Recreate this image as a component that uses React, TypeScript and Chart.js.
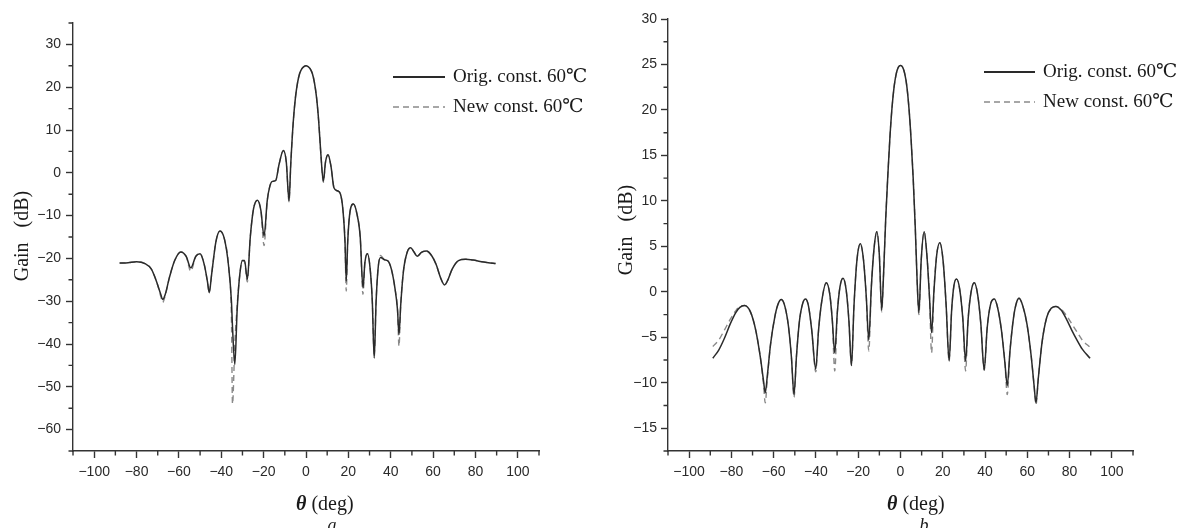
import React, { useEffect, useRef } from 'react';
import { Chart, registerables } from 'chart.js';

Chart.register(...registerables);

// ---------- data: panel a ----------
const thetaA = [
  -88, -84, -80, -76, -73, -70.5, -68.5, -67.7, -66.5, -64.5, -62, -59.1, -56.5, -54.4, -52, -50, -48, -46.5,
  -45.7, -44.5, -42.5, -40.6, -38.5, -36.5, -35.2, -34.7, -33.6, -32.5, -31.2, -30, -29, -27.7, -26.3, -24.8,
  -22.9, -21.3, -19.8, -18.3, -17, -15.9, -14.3, -12.7, -10.7, -9.3, -8, -7.2, -6, -5, -4, -3, -2, -1, 0,
  1, 2, 3, 4, 5, 6, 7, 8.2, 9.2, 10.4, 11.8, 13.2, 14.8, 16.3, 17.5, 18.4, 19, 19.7, 20.8, 22.4, 24, 25.6,
  26.9, 27.8, 29, 30.3, 31.3, 32.2, 33.1, 34.1, 35.2, 37, 38.7, 40.3, 42, 43.2, 43.9, 44.7, 46, 47.8, 49.4,
  51, 52.5, 54.5, 56.9, 59.5, 61.5, 63.5, 65.4, 67, 69, 72, 75.3, 79, 83, 86, 89.5,
];
const origA = [
  -21.1, -21.0, -20.8, -21.2, -22.5, -25.5, -28.5, -29.6, -28.5, -24.5, -20.5, -18.5, -19.6, -22.2, -19.5, -18.9, -21.5, -25.5,
  -28.0, -23.5, -16.0, -13.6, -15.5, -22, -30, -36, -44.8, -32, -23.5, -20.5, -20.5, -24.9, -15, -8.5,
  -6.4, -8.8, -14.8, -6.5, -3, -2.0, -1.8, 2, 5.2, 2.5, -6.6, 2, 12, 17.5, 21, 23.2, 24.3, 24.8, 25,
  24.8, 24.3, 23.2, 21, 17.5, 12, 4.5, -2.0, 2.5, 4.2, 1.5, -3.5, -4.2, -5.0, -9, -16, -25.3, -16, -9, -7.3, -9.5, -15,
  -26.9, -21, -18.9, -22.5, -30, -43.3, -30, -22, -19.8, -20.3, -20.6, -22.5, -27, -32, -37.8, -31, -23, -18.5, -17.5,
  -18.5, -19.5, -18.6, -18.3, -19.5, -21.5, -24.5, -26.2, -25, -22.5, -20.5, -20.2, -20.4, -20.8, -21.0, -21.2,
];
const newA = [
  -21.1, -21.0, -20.8, -21.2, -22.5, -25.5, -29, -30.3, -28.8, -24.5, -20.5, -18.5, -19.6, -23, -19.5, -18.9, -21.5, -25.5,
  -28.0, -23.5, -16.0, -13.6, -15.5, -22, -34, -54, -40, -31, -23.5, -20.5, -20.8, -25.5, -15, -8.5,
  -6.4, -8.8, -17, -6.5, -3, -2.0, -1.8, 2, 5.2, 2.5, -6.8, 2, 12, 17.5, 21, 23.2, 24.3, 24.8, 25,
  24.8, 24.3, 23.2, 21, 17.5, 12, 4.5, -2.2, 2.5, 4.2, 1.5, -3.5, -4.2, -5.0, -9, -16, -27.6, -16, -9, -7.3, -9.5, -15,
  -28.4, -21, -18.9, -22.5, -30, -43, -30, -22, -19.3, -20.3, -20.6, -22.5, -27, -32, -40.5, -31, -23, -18.5, -17.5,
  -18.5, -19.5, -18.6, -18.3, -19.5, -21.5, -24.5, -26.2, -25, -22.5, -20.5, -20.2, -20.4, -20.8, -21.0, -21.2,
];

// ---------- data: panel b ----------
const thetaB = [
  -88.8, -86, -83.3, -80.5, -78, -76, -73.8, -71, -68.5, -66.3, -64.8, -64, -63, -61.5, -59.5, -58, -56.4, -54.7,
  -53, -51.6, -50.4, -49.2, -47.8, -46.3, -44.9, -43.5, -42, -40.1, -38.8, -37.3, -35.1, -33.5, -32.3, -31.1, -29.9,
  -28.6, -27.2, -25.7, -24.4, -23.2, -22, -20.6, -19, -17.5, -16.2, -15, -13.8, -12.5, -11.2, -10, -8.9, -8, -7, -6,
  -5, -4, -3, -2, -1, 0, 1, 2, 3, 4, 5, 6, 7, 7.9, 8.7, 9.8, 11.2, 12.5, 13.7, 14.7, 15.8, 17.1, 18.6, 20.2, 21.6,
  23, 24.2, 25.3, 26.5, 28, 29.5, 30.8, 32, 33.4, 34.9, 36.5, 38, 39.6, 41, 42.7, 44.4, 46, 47.8, 49.4, 50.5, 51.8,
  53.5, 55, 56.1, 57.8, 59.8, 61.8, 63.2, 64.1, 65.2, 67, 69.2, 71.3, 73.5, 76, 78.5, 81, 83.5, 86, 89.7,
];
const origB = [
  -7.3, -6.4, -5.1, -3.5, -2.3, -1.7, -1.5, -2.2, -4.2, -7.2, -9.8, -11.1, -9.2, -5.8, -2.8, -1.4, -0.85, -1.6,
  -3.8, -7.2, -11.3, -7, -3.2, -1.3, -0.8, -1.6, -4.2, -8.5, -4.3, -1.1, 1.0, -0.2, -3, -6.7, -2.3,
  0.6, 1.5, 0.2, -3.2, -8.1, -1.5, 3.5, 5.3, 3.5, -0.5, -5.3, 0.5, 4.8, 6.6, 4, -2.0, 2.0, 8, 12.8,
  17, 20.3, 22.6, 24.0, 24.7, 24.9, 24.7, 24.0, 22.6, 20.2, 16.8, 12.5, 7, 1, -2.3, 3.5, 6.6, 4, -0.5, -4.5, 0, 4, 5.4, 3.3, -1.5,
  -7.6, -2, 0.7, 1.4, 0.3, -3, -7.6, -3, 0, 1.0, -0.3, -3.5, -8.6, -4, -1.3, -0.8, -1.8, -4.3, -7.8, -10.3, -6.5,
  -2.8, -1.1, -0.7, -1.5, -3.5, -7, -10.3, -12.2, -9.5, -5.5, -2.8, -1.8, -1.6, -2.0, -3.0, -4.2, -5.3, -6.3, -7.3,
];
const newB = [
  -6.0, -5.3, -4.2, -3.0, -2.1, -1.6, -1.5, -2.2, -4.2, -7.2, -10.2, -12.2, -9.5, -5.8, -2.8, -1.4, -0.85, -1.6,
  -3.8, -7.2, -11.6, -7, -3.2, -1.3, -0.8, -1.6, -4.2, -8.8, -4.3, -1.1, 1.0, -0.2, -3, -8.7, -2.3,
  0.6, 1.5, 0.2, -3.2, -8.1, -1.5, 3.5, 5.3, 3.5, -0.5, -6.5, 0.5, 4.8, 6.6, 4, -2.2, 2.0, 8, 12.8,
  17, 20.3, 22.6, 24.0, 24.7, 24.9, 24.7, 24.0, 22.6, 20.2, 16.8, 12.5, 7, 1, -2.5, 3.5, 6.6, 4, -0.5, -6.7, 0, 4, 5.4, 3.3, -1.5,
  -7.6, -2, 0.7, 1.4, 0.3, -3, -8.7, -3, 0, 1.0, -0.3, -3.5, -8.6, -4, -1.3, -0.8, -1.8, -4.3, -7.8, -11.3, -6.5,
  -2.8, -1.1, -0.7, -1.5, -3.5, -7, -10.3, -12.4, -9.5, -5.5, -2.8, -1.8, -1.6, -1.9, -2.6, -3.5, -4.4, -5.3, -6.1,
];

// ---------- ticks & labels ----------
const xTicks = [-100, -80, -60, -40, -20, 0, 20, 40, 60, 80, 100];
const xMinor = [-110, -90, -70, -50, -30, -10, 10, 30, 50, 70, 90, 110];
const yTicksA = [-60, -50, -40, -30, -20, -10, 0, 10, 20, 30];
const yMinorA = [-65, -55, -45, -35, -25, -15, -5, 5, 15, 25, 35];
const yTicksB = [-15, -10, -5, 0, 5, 10, 15, 20, 25, 30];
const yMinorB = [-17.5, -12.5, -7.5, -2.5, 2.5, 7.5, 12.5, 17.5, 22.5, 27.5];
const seriesNames = ['Orig. const. 60℃', 'New const. 60℃'];
const yTitle = 'Gain   (dB)';
const xTitleSymbol = 'θ';
const xTitleUnit = ' (deg)';
const panelNames = ['a', 'b'];

const AXIS = '#333333';
const SOLID = '#2a2a2a';
const DASHED = '#8a8a8a';
const SERIF = '"Liberation Serif", "Times New Roman", "DejaVu Serif", serif';
const SANS = '"Liberation Sans", Arial, sans-serif';
const H = 528;

const decorPlugin = {
  id: 'decor',
  afterDraw(chart: any, _args: any, opts: any) {
    const ctx = chart.ctx as CanvasRenderingContext2D;
    const xs = chart.scales.x;
    const ys = chart.scales.y;
    const { left, bottom } = chart.chartArea;
    ctx.save();
    // minor ticks
    ctx.strokeStyle = AXIS;
    ctx.lineWidth = 1.4;
    ctx.beginPath();
    for (const v of opts.xMinor) {
      const p = xs.getPixelForValue(v);
      ctx.moveTo(p, bottom);
      ctx.lineTo(p, bottom + 4.5);
    }
    for (const v of opts.yMinor) {
      const p = ys.getPixelForValue(v);
      ctx.moveTo(left, p);
      ctx.lineTo(left - 4.5, p);
    }
    ctx.stroke();

    // legend
    ctx.font = `19px ${SERIF}`;
    ctx.fillStyle = '#1a1a1a';
    ctx.textBaseline = 'middle';
    ctx.textAlign = 'left';
    chart.data.datasets.forEach((ds: any, i: number) => {
      const y = opts.legend.y + i * 30;
      ctx.save();
      ctx.strokeStyle = ds.borderColor;
      ctx.lineWidth = ds.borderWidth + 0.3;
      ctx.setLineDash(ds.borderDash || []);
      ctx.beginPath();
      ctx.moveTo(opts.legend.x1, y);
      ctx.lineTo(opts.legend.x2, y);
      ctx.stroke();
      ctx.restore();
      ctx.fillText(ds.label, opts.legend.tx, y);
    });

    // y title
    ctx.save();
    ctx.translate(opts.yTitle.x, opts.yTitle.y);
    ctx.rotate(-Math.PI / 2);
    ctx.textAlign = 'center';
    ctx.textBaseline = 'middle';
    ctx.font = `20px ${SERIF}`;
    ctx.fillText(yTitle, 0, 0);
    ctx.restore();

    // x title
    ctx.textAlign = 'left';
    ctx.textBaseline = 'alphabetic';
    ctx.font = `italic bold 20px ${SERIF}`;
    ctx.fillText(xTitleSymbol, opts.xTitle.x, opts.xTitle.y);
    const w = ctx.measureText(xTitleSymbol).width;
    ctx.font = `20px ${SERIF}`;
    ctx.fillText(xTitleUnit, opts.xTitle.x + w, opts.xTitle.y);

    // panel label
    ctx.font = `italic 18px ${SERIF}`;
    ctx.textAlign = 'center';
    ctx.fillText(opts.panel.text, opts.panel.x, opts.panel.y);
    ctx.restore();
  },
};

type Spec = {
  canvasLeft: number;
  width: number;
  area: { left: number; right: number; top: number; bottom: number };
  theta: number[];
  orig: number[];
  neu: number[];
  yMin: number;
  yMax: number;
  yTicks: number[];
  yMinor: number[];
  yPad: number;
  legend: { x1: number; x2: number; y: number; tx: number };
  yTitlePos: { x: number; y: number };
  xTitlePos: { x: number; y: number };
  panel: { text: string; x: number; y: number };
};

const fmt = (v: any) => String(v).replace('-', '\u2212');

function makeConfig(s: Spec): any {
  const toPts = (ys: number[]) => s.theta.map((x, i) => ({ x, y: ys[i] }));
  return {
    type: 'line',
    data: {
      datasets: [
        {
          label: seriesNames[0],
          data: toPts(s.orig),
          borderColor: SOLID,
          borderWidth: 1.5,
          pointRadius: 0,
          cubicInterpolationMode: 'monotone',
          fill: false,
        },
        {
          label: seriesNames[1],
          data: toPts(s.neu),
          borderColor: DASHED,
          borderWidth: 1.4,
          borderDash: [6, 4],
          pointRadius: 0,
          cubicInterpolationMode: 'monotone',
          fill: false,
        },
      ],
    },
    options: {
      responsive: false,
      animation: false,
      devicePixelRatio: 1,
      layout: {
        padding: { left: 0, top: s.area.top, right: s.width - s.area.right, bottom: 0 },
      },
      plugins: {
        legend: { display: false },
        tooltip: { enabled: false },
        decor: {
          xMinor,
          yMinor: s.yMinor,
          legend: s.legend,
          yTitle: s.yTitlePos,
          xTitle: s.xTitlePos,
          panel: s.panel,
        },
      },
      scales: {
        x: {
          type: 'linear',
          min: -110,
          max: 110,
          afterBuildTicks: (sc: any) => {
            sc.ticks = xTicks.map((v) => ({ value: v }));
          },
          afterFit: (sc: any) => {
            sc.height = H - s.area.bottom;
          },
          grid: {
            display: true,
            drawOnChartArea: false,
            drawTicks: true,
            tickLength: 7,
            tickColor: AXIS,
            tickWidth: 1.4,
          },
          border: { display: true, color: AXIS, width: 1.4 },
          ticks: {
            padding: 6,
            color: '#2a2a2a',
            maxRotation: 0,
            autoSkip: false,
            font: { family: SANS, size: 14 },
            callback: fmt,
          },
        },
        y: {
          type: 'linear',
          min: s.yMin,
          max: s.yMax,
          afterBuildTicks: (sc: any) => {
            sc.ticks = s.yTicks.map((v) => ({ value: v }));
          },
          afterFit: (sc: any) => {
            sc.width = s.area.left;
          },
          grid: {
            display: true,
            drawOnChartArea: false,
            drawTicks: true,
            tickLength: 7,
            tickColor: AXIS,
            tickWidth: 1.4,
          },
          border: { display: true, color: AXIS, width: 1.4 },
          ticks: {
            padding: s.yPad,
            color: '#2a2a2a',
            autoSkip: false,
            font: { family: SANS, size: 14 },
            callback: fmt,
          },
        },
      },
    },
    plugins: [decorPlugin],
  };
}

const specA: Spec = {
  canvasLeft: 0,
  width: 600,
  area: { left: 73, right: 539, top: 23, bottom: 451 },
  theta: thetaA,
  orig: origA,
  neu: newA,
  yMin: -65,
  yMax: 35,
  yTicks: yTicksA,
  yMinor: yMinorA,
  yPad: 5,
  legend: { x1: 393, x2: 445, y: 77, tx: 453 },
  yTitlePos: { x: 23, y: 236 },
  xTitlePos: { x: 296, y: 510 },
  panel: { text: panelNames[0], x: 332, y: 531 },
};

const specB: Spec = {
  canvasLeft: 600,
  width: 582,
  area: { left: 68, right: 533, top: 19, bottom: 451 },
  theta: thetaB,
  orig: origB,
  neu: newB,
  yMin: -17.5,
  yMax: 30,
  yTicks: yTicksB,
  yMinor: yMinorB,
  yPad: 4,
  legend: { x1: 384, x2: 435, y: 72, tx: 443 },
  yTitlePos: { x: 27, y: 230 },
  xTitlePos: { x: 287, y: 510 },
  panel: { text: panelNames[1], x: 324, y: 531 },
};

function Panel({ spec }: { spec: Spec }) {
  const ref = useRef<HTMLCanvasElement | null>(null);
  useEffect(() => {
    if (!ref.current) return;
    const chart = new Chart(ref.current, makeConfig(spec));
    return () => chart.destroy();
  }, [spec]);
  return (
    <canvas
      ref={ref}
      width={spec.width}
      height={H}
      style={{ position: 'absolute', left: spec.canvasLeft, top: 0, width: spec.width, height: H }}
    />
  );
}

export default function App() {
  return (
    <div style={{ position: 'fixed', left: 0, top: 0, width: 1182, height: H, background: '#ffffff', overflow: 'hidden' }}>
      <Panel spec={specA} />
      <Panel spec={specB} />
    </div>
  );
}
